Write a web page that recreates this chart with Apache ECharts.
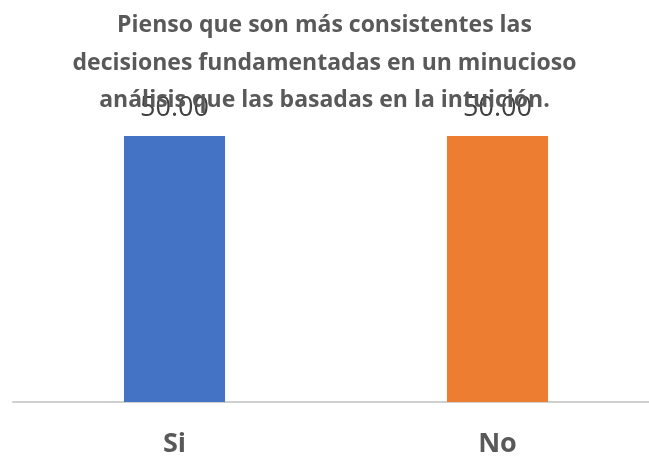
<!DOCTYPE html>
<html>
<head>
<meta charset="utf-8">
<script src="https://cdn.jsdelivr.net/npm/echarts@6/dist/echarts.min.js"></script>
<style>
  html, body { margin: 0; padding: 0; background: #ffffff; }
  #chart { width: 649px; height: 459px; }
</style>
</head>
<body>
<div id="chart"></div>
<script>
// Categories and values
const categories = ['Si', 'No'];
const values = [50.00, 50.00];
const barColors = ['#4472C4', '#ED7D31'];
const titleText = 'Pienso que son más consistentes las\ndecisiones fundamentadas en un minucioso\nanálisis que las basadas en la intuición.';

const chart = echarts.init(document.getElementById('chart'), null, { renderer: 'canvas' });

chart.setOption({
  animation: false,
  backgroundColor: '#ffffff',
  title: {
    text: titleText,
    left: 'center',
    top: 2,
    textStyle: {
      fontFamily: 'Open Sans',
      fontSize: 23,
      fontWeight: 'bold',
      color: '#595959',
      lineHeight: 37.5
    }
  },
  grid: { left: 13, width: 646, top: 136, bottom: 57, outerBoundsMode: 'none' },
  xAxis: {
    type: 'category',
    data: categories,
    axisTick: { show: false },
    axisLine: { lineStyle: { color: '#d0d0d0', width: 2 } },
    axisLabel: {
      margin: 29,
      fontFamily: 'Open Sans',
      fontSize: 27,
      fontWeight: 'bold',
      color: '#595959'
    }
  },
  yAxis: {
    type: 'value',
    min: 0,
    max: 50,
    show: false,
    splitLine: { show: false }
  },
  series: [{
    type: 'bar',
    barWidth: '31.3%',
    data: values.map((v, i) => ({ value: v, itemStyle: { color: barColors[i] } })),
    label: {
      show: true,
      position: 'top',
      distance: 14,
      formatter: p => p.value.toFixed(2),
      fontFamily: 'Open Sans',
      fontSize: 27,
      color: '#404040'
    }
  }]
});
</script>
</body>
</html>
